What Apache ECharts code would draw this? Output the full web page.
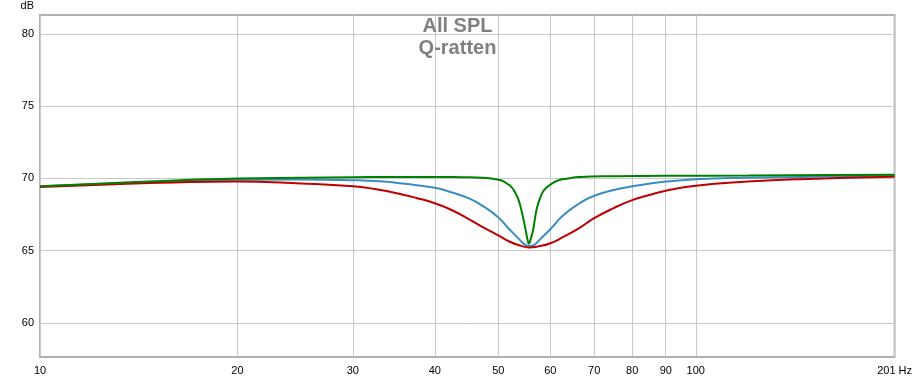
<!DOCTYPE html>
<html>
<head>
<meta charset="utf-8">
<script src="https://cdn.jsdelivr.net/npm/echarts@6/dist/echarts.min.js"></script>
<style>html,body{margin:0;padding:0;background:#fff;}#c{width:915px;height:379px;}</style>
</head>
<body>
<div id="c"></div>
<script>
var titleLines = ['All SPL', 'Q-ratten'];
var xTicks = [10, 20, 30, 40, 50, 60, 70, 80, 90, 100, 201];
var yTicks = [60, 65, 70, 75, 80];

var freqBlue = [10, 13, 16, 20, 25, 30, 33, 36, 40, 42.5, 45.2, 47.5, 49.9, 52.05, 53.9, 54.9, 55.8, 56.8, 57.8, 59.9, 62.8, 66.6, 70, 75, 80, 90, 100, 120, 144, 201];
var splBlue  = [69.45, 69.65, 69.8, 69.9, 69.93, 69.88, 69.8, 69.63, 69.35, 69.02, 68.6, 68.05, 67.33, 66.45, 65.75, 65.42, 65.32, 65.42, 65.75, 66.45, 67.45, 68.3, 68.8, 69.2, 69.45, 69.78, 69.95, 70.05, 70.1, 70.2];

var freqRed = [10, 13, 16, 20, 25, 30, 32.5, 35, 37.5, 40, 42.5, 45.2, 47.5, 49.9, 52.05, 54, 55.7, 57.5, 59.9, 62.8, 66.6, 70, 75, 80, 85, 90, 100, 120, 144, 201];
var splRed  = [69.4, 69.6, 69.72, 69.78, 69.65, 69.46, 69.25, 68.98, 68.65, 68.28, 67.8, 67.15, 66.6, 66.07, 65.62, 65.35, 65.23, 65.3, 65.5, 65.95, 66.6, 67.25, 67.95, 68.5, 68.85, 69.15, 69.5, 69.78, 69.95, 70.12];

var freqGreen = [10, 12, 14, 17, 20, 25, 30, 35, 40, 44, 47.3, 49, 50.55, 51.5, 52.36, 53, 53.47, 53.9, 54.22, 54.65, 55.05, 55.4, 55.68, 56, 56.47, 56.8, 57.15, 57.5, 57.97, 58.5, 59.33, 60.4, 61.66, 63.5, 66.55, 75, 90, 120, 160, 201];
var splGreen  = [69.45, 69.62, 69.75, 69.9, 70.0, 70.05, 70.08, 70.1, 70.1, 70.08, 70.05, 69.97, 69.86, 69.65, 69.4, 69.05, 68.7, 68.25, 67.8, 67.1, 66.4, 65.75, 65.48, 65.8, 66.4, 67.1, 67.8, 68.25, 68.7, 69.1, 69.4, 69.65, 69.86, 69.98, 70.1, 70.15, 70.18, 70.2, 70.23, 70.25];

function pairs(xs, ys) { return xs.map(function (x, i) { return [x, ys[i]]; }); }

var chart = echarts.init(document.getElementById('c'), null, {renderer: 'canvas'});
var font = 'Liberation Sans, Arial, sans-serif';
chart.setOption({
  animation: false,
  backgroundColor: '#ffffff',
  title: {
    text: titleLines.join('\n'),
    left: 'center',
    top: 10,
    textStyle: {color: '#808080', fontSize: 20, fontWeight: 'bold', fontFamily: font, lineHeight: 22}
  },
  grid: {left: 40, right: 20, top: 14, bottom: 22, show: true, borderColor: '#b0b0b0', borderWidth: 2, backgroundColor: 'transparent'},
  xAxis: {
    type: 'log', logBase: 10, min: 10, max: 201,
    axisLine: {show: false},
    axisTick: {show: false, customValues: xTicks},
    axisLabel: {customValues: xTicks, color: '#000', fontSize: 11, fontFamily: font, margin: 8,
      formatter: function (v) { return Math.round(v) === 201 ? '201 Hz' : String(Math.round(v)); }},
    splitLine: {show: true, lineStyle: {color: '#c8c8c8', width: 1}},
    minorTick: {show: false}, minorSplitLine: {show: false}
  },
  yAxis: {
    type: 'value', min: 57.65, max: 81.3,
    name: 'dB', nameLocation: 'end', nameGap: 4,
    nameTextStyle: {color: '#000', fontSize: 11, fontFamily: font, align: 'right', padding: [0, 6, 0, 0]},
    axisLine: {show: false},
    axisTick: {show: false, customValues: yTicks},
    axisLabel: {customValues: yTicks, color: '#000', fontSize: 11, fontFamily: font, margin: 6},
    splitLine: {show: true, lineStyle: {color: '#c8c8c8', width: 1}}
  },
  series: [
    {type: 'line', data: pairs(freqBlue, splBlue), smooth: 0.5, showSymbol: false, lineStyle: {color: '#3a8dbf', width: 2}, z: 2},
    {type: 'line', data: pairs(freqRed, splRed), smooth: 0.5, showSymbol: false, lineStyle: {color: '#c00000', width: 2}, z: 3},
    {type: 'line', data: pairs(freqGreen, splGreen), smooth: 0.5, showSymbol: false, lineStyle: {color: '#008000', width: 2}, z: 4}
  ]
});
</script>
</body>
</html>
